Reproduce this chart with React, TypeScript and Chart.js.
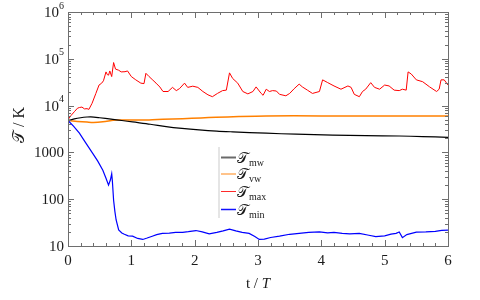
import React, { useEffect, useRef } from 'react';
import { Chart, registerables } from 'chart.js';
Chart.register(...registerables);

// ---- data (t in units of T, temperatures in K) ----
const tMw = [0, 0.1, 0.2, 0.3, 0.36, 0.5, 0.68, 0.85, 1.02, 1.3, 1.55, 1.8, 2.07, 2.35, 2.6, 3.13, 3.6, 4.18, 4.7, 5.23, 5.6, 6.0];
const tempMw = [4800, 5200, 5500, 5700, 5750, 5500, 5130, 4800, 4470, 4000, 3550, 3250, 3020, 2850, 2750, 2570, 2450, 2340, 2280, 2240, 2180, 2090];

const tVw = [0, 0.15, 0.3, 0.4, 0.55, 0.76, 1.0, 1.28, 1.5, 1.81, 2.1, 2.34, 2.7, 3.13, 4.0, 5.0, 6.0];
const tempVw = [4800, 4600, 4450, 4370, 4500, 4900, 4950, 4950, 5100, 5250, 5450, 5620, 5850, 6030, 6030, 6030, 6030];

const tMax = [0, 0.05, 0.1, 0.15, 0.18, 0.22, 0.26, 0.3, 0.33, 0.38, 0.44, 0.49, 0.53, 0.56, 0.6, 0.62, 0.64, 0.66, 0.69, 0.72, 0.75, 0.8, 0.84, 0.9, 0.94, 1.0, 1.07, 1.15, 1.2, 1.23, 1.28, 1.34, 1.39, 1.45, 1.5, 1.58, 1.65, 1.71, 1.76, 1.84, 1.89, 1.97, 2.05, 2.13, 2.21, 2.28, 2.36, 2.44, 2.5, 2.55, 2.6, 2.68, 2.76, 2.84, 2.92, 2.97, 3.05, 3.08, 3.13, 3.18, 3.23, 3.29, 3.34, 3.44, 3.5, 3.57, 3.65, 3.7, 3.78, 3.86, 3.97, 4.02, 4.1, 4.2, 4.31, 4.42, 4.47, 4.52, 4.6, 4.65, 4.7, 4.78, 4.84, 4.92, 5.0, 5.07, 5.15, 5.23, 5.28, 5.34, 5.37, 5.42, 5.5, 5.6, 5.71, 5.82, 5.86, 5.89, 5.94, 6.0];
const tempMax = [5000, 6200, 7400, 8800, 9100, 9300, 8500, 8600, 8300, 11200, 18200, 27500, 30000, 33900, 52500, 46000, 44700, 55000, 41700, 83200, 60300, 57000, 52500, 53000, 55000, 41700, 35500, 30200, 29500, 49000, 41700, 35000, 30200, 25000, 20000, 20000, 24500, 20900, 23000, 30200, 24500, 26000, 24500, 20000, 17000, 15500, 18200, 20900, 21400, 50100, 38000, 30200, 20000, 17800, 20000, 25100, 18200, 16600, 22400, 20000, 20900, 20500, 17400, 16200, 18200, 22900, 28800, 25100, 21400, 18200, 20000, 35500, 31000, 26300, 22400, 26300, 24500, 17400, 15500, 20000, 22400, 30900, 24500, 22400, 27500, 26300, 21400, 20900, 22400, 21400, 52500, 47300, 35500, 32400, 25100, 20000, 22400, 35500, 35500, 27500];

const tMin = [0, 0.09, 0.18, 0.28, 0.39, 0.47, 0.55, 0.6, 0.64, 0.67, 0.69, 0.7, 0.72, 0.74, 0.76, 0.8, 0.85, 0.89, 0.95, 1.02, 1.1, 1.18, 1.25, 1.33, 1.4, 1.49, 1.6, 1.7, 1.81, 1.9, 2.02, 2.12, 2.23, 2.35, 2.45, 2.55, 2.65, 2.75, 2.86, 2.95, 3.02, 3.1, 3.2, 3.34, 3.5, 3.65, 3.8, 3.97, 4.1, 4.2, 4.33, 4.45, 4.6, 4.75, 4.86, 5.0, 5.1, 5.18, 5.23, 5.28, 5.35, 5.5, 5.65, 5.8, 5.9, 6.0];
const tempMin = [4800, 3600, 2570, 1600, 955, 650, 417, 280, 200, 260, 350, 250, 95, 55, 36, 22, 19, 17.8, 16.5, 16.2, 14.5, 13.8, 14.8, 16.2, 17.5, 18.6, 18.8, 19.5, 19.5, 20.2, 21.4, 20, 18.2, 19.5, 21, 22.9, 21, 19.5, 18.6, 16, 13.8, 14, 15.2, 16.2, 17.8, 18.6, 19.5, 20, 19, 19.5, 18.6, 18.2, 18.6, 17, 15.8, 16.5, 18, 18.6, 20, 15.1, 17.5, 19.8, 20, 20.5, 21.5, 21.9];

const xTickValues = [0, 1, 2, 3, 4, 5, 6];
const yTickValues = [10, 100, 1000, 1e4, 1e5, 1e6];
const yTickBase = ['10', '100', '1000', '10', '10', '10'];
const yTickExp = ['', '', '', '4', '5', '6'];
const seriesSubs = ['mw', 'vw', 'max', 'min'];

const SERIF = '"Liberation Serif", "DejaVu Serif", serif';
const SCRIPT_T = '\u{1D4AF}';

const pts = (xs: number[], ys: number[]) => xs.map((x, i) => ({ x, y: ys[i] }));

const decorPlugin = {
  id: 'decor',
  afterDraw(chart: any) {
    const { ctx, chartArea: a, scales } = chart;
    const xs = scales.x;
    const ys = scales.y;
    ctx.save();
    // frame
    ctx.strokeStyle = '#6e6e6e';
    ctx.lineWidth = 1;
    ctx.strokeRect(a.left + 0.5, a.top + 0.5, a.right - a.left, a.bottom - a.top);
    ctx.beginPath();
    // x ticks, every 0.2
    for (let i = 0; i <= 30; i++) {
      const px = Math.round(xs.getPixelForValue(i * 0.2)) + 0.5;
      const len = i % 5 === 0 ? 6 : 3;
      ctx.moveTo(px, a.bottom);
      ctx.lineTo(px, a.bottom - len);
      ctx.moveTo(px, a.top);
      ctx.lineTo(px, a.top + len);
    }
    // y ticks, log minor
    for (let e = 1; e < 6; e++) {
      for (let m = 1; m < 10; m++) {
        const py = Math.round(ys.getPixelForValue(m * Math.pow(10, e))) + 0.5;
        const len = m === 1 ? 6 : 3;
        ctx.moveTo(a.left, py);
        ctx.lineTo(a.left + len, py);
        ctx.moveTo(a.right, py);
        ctx.lineTo(a.right - len, py);
      }
    }
    ctx.stroke();

    // y tick labels
    ctx.fillStyle = '#1a1a1a';
    ctx.textBaseline = 'middle';
    const rightEdge = a.left - 4;
    yTickValues.forEach((v, i) => {
      const py = ys.getPixelForValue(v);
      const base = yTickBase[i];
      const exp = yTickExp[i];
      ctx.textAlign = 'right';
      if (exp) {
        ctx.font = `10px ${SERIF}`;
        const ew = ctx.measureText(exp).width;
        ctx.fillText(exp, rightEdge, py - 6);
        ctx.font = `15px ${SERIF}`;
        ctx.fillText(base, rightEdge - ew, py + 1);
      } else {
        ctx.font = `15px ${SERIF}`;
        ctx.fillText(base, rightEdge, py + 1);
      }
    });

    // x title "t / T"
    ctx.textBaseline = 'alphabetic';
    ctx.textAlign = 'left';
    ctx.font = `15px ${SERIF}`;
    const p1 = 't / ';
    const w1 = ctx.measureText(p1).width;
    ctx.font = `italic 15px ${SERIF}`;
    const w2 = ctx.measureText('T').width;
    const cx = (a.left + a.right) / 2;
    const x0 = cx - (w1 + w2) / 2;
    ctx.font = `15px ${SERIF}`;
    ctx.fillText(p1, x0, 288);
    ctx.font = `italic 15px ${SERIF}`;
    ctx.fillText('T', x0 + w1, 288);

    // y title
    ctx.save();
    ctx.translate(24, (a.top + a.bottom) / 2 - 4);
    ctx.rotate(-Math.PI / 2);
    ctx.textAlign = 'center';
    ctx.font = `16px ${SERIF}`;
    ctx.fillText(SCRIPT_T + ' / K', 0, 0);
    ctx.restore();

    // legend
    const legendColors = ['#6a6a6a', '#ffc38a', '#ff2a2a', '#1010ff'];
    const legendWidths = [2, 2, 1, 1.5];
    const rows = [157.5, 174, 191.5, 209.5];
    ctx.strokeStyle = '#dcdcdc';
    ctx.lineWidth = 1.5;
    ctx.beginPath();
    ctx.moveTo(219, 147);
    ctx.lineTo(219, 218);
    ctx.stroke();
    rows.forEach((ry, i) => {
      ctx.strokeStyle = legendColors[i];
      ctx.lineWidth = legendWidths[i];
      ctx.beginPath();
      ctx.moveTo(221, ry);
      ctx.lineTo(236, ry);
      ctx.stroke();
      ctx.fillStyle = '#1a1a1a';
      ctx.textAlign = 'left';
      ctx.font = `15px ${SERIF}`;
      ctx.fillText(SCRIPT_T, 237, ry + 5);
      const tw = ctx.measureText(SCRIPT_T).width;
      ctx.font = `10px ${SERIF}`;
      ctx.fillText(seriesSubs[i], 237 + tw + 1, ry + 8);
    });
    ctx.restore();
  },
};

export default function App() {
  const ref = useRef<HTMLCanvasElement>(null);
  useEffect(() => {
    if (!ref.current) return;
    const chart = new Chart(ref.current, {
      type: 'line',
      data: {
        datasets: [
          { label: 'mw', data: pts(tMw, tempMw), borderColor: '#000000', borderWidth: 1.2, pointRadius: 0, tension: 0.3, order: 2 },
          { label: 'vw', data: pts(tVw, tempVw), borderColor: '#ff8000', borderWidth: 1.5, pointRadius: 0, tension: 0.3, order: 3 },
          { label: 'max', data: pts(tMax, tempMax), borderColor: '#ff0000', borderWidth: 1, pointRadius: 0, tension: 0, order: 1 },
          { label: 'min', data: pts(tMin, tempMin), borderColor: '#0000ff', borderWidth: 1.2, pointRadius: 0, tension: 0, order: 0 },
        ],
      },
      options: {
        animation: false,
        responsive: true,
        maintainAspectRatio: false,
        layout: { padding: { left: 0, top: 12, right: 32, bottom: 0 } },
        plugins: { legend: { display: false }, tooltip: { enabled: false } },
        scales: {
          x: {
            type: 'linear',
            min: 0,
            max: 6,
            grid: { display: false, drawTicks: false },
            border: { display: false },
            afterBuildTicks: (s: any) => { s.ticks = xTickValues.map((v) => ({ value: v })); },
            afterFit: (s: any) => { s.height = 54; },
            ticks: { padding: 6, color: '#1a1a1a', font: { family: SERIF, size: 15 }, maxRotation: 0 },
          },
          y: {
            type: 'logarithmic',
            min: 10,
            max: 1e6,
            grid: { display: false, drawTicks: false },
            border: { display: false },
            afterFit: (s: any) => { s.width = 68; },
            ticks: { display: false },
          },
        },
      },
      plugins: [decorPlugin],
    });
    return () => chart.destroy();
  }, []);
  return (
    <div style={{ position: 'absolute', left: 0, top: 0, width: 480, height: 300 }}>
      <canvas ref={ref} />
    </div>
  );
}
